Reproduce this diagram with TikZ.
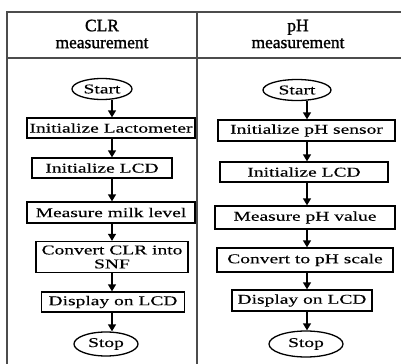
\documentclass[tikz,border=0pt]{standalone}
\usepackage{fontspec}
\setmainfont{Liberation Serif}
\newfontfamily\boxfont{Liberation Serif}[FakeStretch=1.45,FakeBold=0.3]
\newfontfamily\hdfont{Liberation Serif}[FakeBold=1.3]
\usetikzlibrary{shapes.geometric,arrows.meta}
\begin{document}
\begin{tikzpicture}[x=1bp,y=-1bp,
  frame/.style={draw=black!70, line width=1.2bp},
  proc/.style={draw, line width=1.3bp, rectangle, inner sep=1bp, align=center,
    font=\boxfont\fontsize{13.5}{14}\selectfont},
  term/.style={draw, line width=1.3bp, ellipse, inner sep=0pt,
    font=\boxfont\fontsize{13.5}{14}\selectfont},
  arr/.style={line width=1.3bp, -{Triangle[width=8bp,length=7bp]}},
  head/.style={align=center, font=\hdfont\fontsize{17.5}{17}\selectfont}]
\useasboundingbox (0,0) rectangle (401,364);
% table
\draw[frame] (7,366) -- (7,12) -- (402,12);
\draw[frame] (197,12) -- (197,366);
\draw[frame] (7,58) -- (402,58);
\node[head] (h1) at (102,34) {CLR\\measurement};
\node[head] (h2) at (298,34) {pH\\measurement};
% left column
\node[term, minimum width=60bp, minimum height=21bp] (s1) at (102,89) {Start};
\node[proc, minimum width=168bp, minimum height=20bp] (a1) at (111,128) {Initialize Lactometer};
\node[proc, minimum width=140bp, minimum height=20bp] (a2) at (102,168) {Initialize LCD};
\node[proc, minimum width=168bp, minimum height=21bp] (a3) at (111,212.5) {Measure milk level};
\node[proc, minimum width=152bp, minimum height=31bp] (a4) at (112,257) {Convert CLR into\\SNF};
\node[proc, minimum width=143bp, minimum height=20bp] (a5) at (113,302) {Display on LCD};
\node[term, minimum width=64bp, minimum height=24bp] (e1) at (106,344) {Stop};
% right column
\node[term, minimum width=68bp, minimum height=21bp] (s2) at (297,90) {Start};
\node[proc, minimum width=177bp, minimum height=21bp] (b1) at (306.5,130.5) {Initialize pH sensor};
\node[proc, minimum width=168bp, minimum height=20bp] (b2) at (304,172) {Initialize LCD};
\node[proc, minimum width=180bp, minimum height=23bp] (b3) at (305,217.5) {Measure pH value};
\node[proc, minimum width=176bp, minimum height=24bp] (b4) at (305,260) {Convert to pH scale};
\node[proc, minimum width=140bp, minimum height=21bp] (b5) at (302,300.5) {Display on LCD};
\node[term, minimum width=74bp, minimum height=26bp] (e2) at (306,344) {Stop};
% arrows
\coordinate (L) at (112,0);
\coordinate (R) at (307,0);
\draw[arr] (s1.south -| L) -- (a1.north -| L);
\draw[arr] (a1.south -| L) -- (a2.north -| L);
\draw[arr] (a2.south -| L) -- (a3.north -| L);
\draw[arr] (a3.south -| L) -- (a4.north -| L);
\draw[arr] (a4.south -| L) -- (a5.north -| L);
\draw[arr] (a5.south -| L) -- (e1.north -| L);
\draw[arr] (s2.south -| R) -- (b1.north -| R);
\draw[arr] (b1.south -| R) -- (b2.north -| R);
\draw[arr] (b2.south -| R) -- (b3.north -| R);
\draw[arr] (b3.south -| R) -- (b4.north -| R);
\draw[arr] (b4.south -| R) -- (b5.north -| R);
\draw[arr] (b5.south -| R) -- (e2.north -| R);
\end{tikzpicture}
\end{document}
